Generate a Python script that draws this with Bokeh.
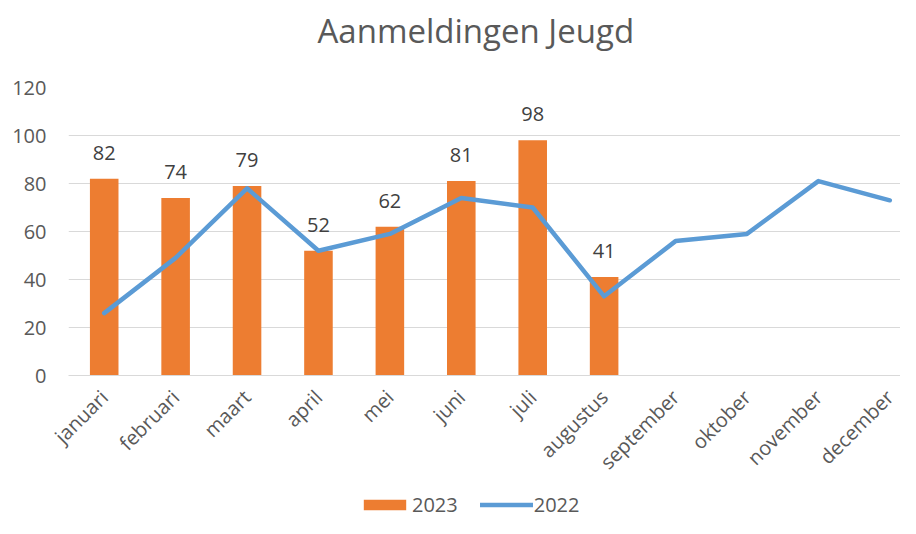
from bokeh.plotting import figure
from bokeh.layouts import column
from bokeh.models import (Range1d, FixedTicker, ColumnDataSource, LabelSet,
                          Legend, LegendItem, Title)
from bokeh.core.properties import value
from bokeh.embed import file_html
from bokeh.resources import INLINE
from math import pi

months = ["januari", "februari", "maart", "april", "mei", "juni", "juli",
          "augustus", "september", "oktober", "november", "december"]
values_2023 = [82, 74, 79, 52, 62, 81, 98, 41]
values_2022 = [26, 49, 78, 52, 59, 74, 70, 33, 56, 59, 81, 73]
y_ticks = [0, 20, 40, 60, 80, 100, 120]
series_names = ["2023", "2022"]

ORANGE = "#ED7D31"
BLUE = "#5B9BD5"
GREY_TXT = "#595959"
GRID = "#D9D9D9"
FONT = "Open Sans"

idx_all = list(range(len(months)))
idx_2023 = list(range(len(values_2023)))

p = figure(width=900, height=490, output_backend="svg", toolbar_location=None,
           x_range=Range1d(-0.5, 11.15), y_range=Range1d(0, 120),
           min_border_left=68, min_border_right=0, min_border_top=87,
           min_border_bottom=115)
p.outline_line_color = None
p.background_fill_color = "white"
p.border_fill_color = "white"

# spacer (closest to the frame) then the real title above it
spacer = Title(text=" ", text_font_size="10px", standoff=22,
               text_color="white")
p.add_layout(spacer, "above")
title = Title(text="Aanmeldingen Jeugd", align="left", offset=249,
              text_font=FONT, text_font_size="33px", text_font_style="normal",
              text_color=GREY_TXT, standoff=0)
p.add_layout(title, "above")

src_bar = ColumnDataSource(dict(x=idx_2023, y=values_2023,
                                lbl=[str(v) for v in values_2023]))
src_line = ColumnDataSource(dict(x=idx_all, y=values_2022))

bars = p.vbar(x="x", top="y", width=0.4, source=src_bar, fill_color=ORANGE,
              line_color=None)
line = p.line(x="x", y="y", source=src_line, line_color=BLUE, line_width=4.5,
              line_join="round", line_cap="round")

labels = LabelSet(x="x", y="y", text="lbl", source=src_bar,
                  text_align="center", text_baseline="alphabetic", y_offset=19,
                  text_font=value(FONT), text_font_size="20px",
                  text_color="#404040")
p.add_layout(labels)

# axes
p.xaxis.ticker = FixedTicker(ticks=idx_all)
p.xaxis.major_label_overrides = {i: m for i, m in enumerate(months)}
p.xaxis.major_label_orientation = pi / 4
p.xaxis.major_label_text_font = FONT
p.xaxis.major_label_text_font_size = "20px"
p.xaxis.major_label_text_color = GREY_TXT
p.xaxis.major_label_standoff = 18
p.xaxis.axis_line_color = GRID
p.xaxis.axis_line_width = 1
p.xaxis.major_tick_line_color = None
p.xaxis.minor_tick_line_color = None
p.xaxis.major_tick_out = 0
p.xaxis.major_tick_in = 0

p.yaxis.ticker = FixedTicker(ticks=y_ticks)
p.yaxis.major_label_text_font = FONT
p.yaxis.major_label_text_font_size = "20px"
p.yaxis.major_label_text_color = GREY_TXT
p.yaxis.major_label_standoff = 22
p.yaxis.axis_line_color = None
p.yaxis.major_tick_line_color = None
p.yaxis.minor_tick_line_color = None
p.yaxis.major_tick_out = 0
p.yaxis.major_tick_in = 0

p.xgrid.grid_line_color = None
p.ygrid.grid_line_color = GRID
p.ygrid.grid_line_width = 1

# legend strip below the chart (proxy renderers share the data but lie
# outside this strip's visible range, so only the legend shows)
lf = figure(width=900, height=28, output_backend="svg", toolbar_location=None,
            x_range=Range1d(1000, 1001), y_range=Range1d(1000, 1001),
            x_axis_location=None, y_axis_location=None,
            min_border_left=0, min_border_right=0, min_border_top=0,
            min_border_bottom=0)
lf.outline_line_color = None
lf.grid.visible = False
lf.background_fill_color = "white"
lf.border_fill_color = "white"
lf_bar = lf.vbar(x="x", top="y", width=0.4, source=src_bar, fill_color=ORANGE,
                 line_color=None)
lf_line = lf.line(x="x", y="y", source=src_line, line_color=BLUE,
                  line_width=4.5, line_cap="round")

legend = Legend(items=[LegendItem(label=series_names[0], renderers=[lf_bar]),
                       LegendItem(label=series_names[1], renderers=[lf_line])],
                orientation="horizontal", location=(290, 0))
legend.glyph_width = 53
legend.glyph_height = 13
legend.label_text_font = FONT
legend.label_text_font_size = "20px"
legend.label_text_color = GREY_TXT
legend.label_standoff = 1
legend.spacing = 22
legend.padding = 0
legend.margin = 0
legend.border_line_color = None
legend.background_fill_alpha = 0
lf.add_layout(legend, "center")

layout = column(p, lf, spacing=0)
open("out.html", "w").write(file_html(layout, INLINE))
